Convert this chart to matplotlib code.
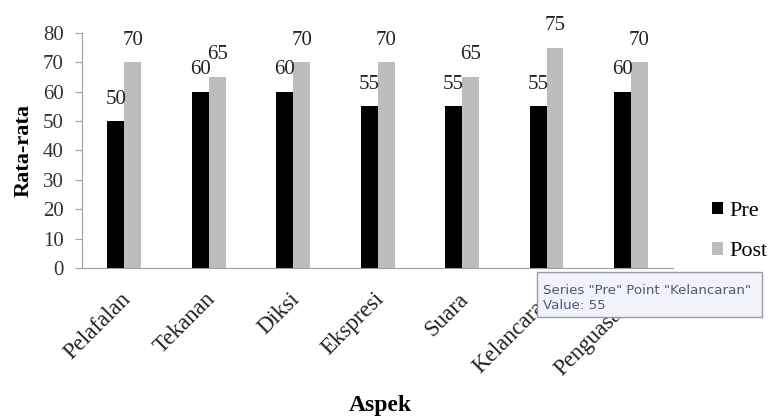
import numpy as np
import matplotlib.pyplot as plt
import matplotlib.transforms as mtransforms
from matplotlib.patches import Rectangle

aspek = ['Pelafalan', 'Tekanan', 'Diksi', 'Ekspresi', 'Suara', 'Kelancaran', 'Penguasaan']
pre = [50, 60, 60, 55, 55, 55, 60]
post = [70, 65, 70, 70, 65, 75, 70]

plt.rcParams['font.family'] = ['Liberation Serif', 'DejaVu Serif']

fig = plt.figure(figsize=(7.73, 4.16), dpi=100)
ax = fig.add_axes([0.106, 0.356, 0.765, 0.565])

x = np.arange(len(aspek))
w = 0.2
b1 = ax.bar(x - w / 2, pre, w, color='black', label='Pre')
b2 = ax.bar(x + w / 2, post, w, color='#bdbdbd', label='Post')

for bars, vals in ((b1, pre), (b2, post)):
    for r, v in zip(bars, vals):
        ax.annotate(str(v), (r.get_x() + r.get_width() / 2, v), xytext=(0, 9),
                    textcoords='offset points', ha='center', va='bottom', fontsize=15,
                    color='#222222')

ax.set_xlim(-0.5, len(aspek) - 0.5)
ax.set_ylim(0, 80)
ax.set_yticks(range(0, 81, 10))
ax.tick_params(axis='y', labelsize=15, labelcolor='#333333', color='#a0a0a0', length=5, pad=8)
ax.tick_params(axis='x', length=0, pad=15)
ax.set_xticks(x)
ax.set_xticklabels(aspek, rotation=45, ha='right', rotation_mode='anchor', fontsize=16.5,
                   color='#222222')
# przesunięcie etykiet odrobinę w lewo
shift = mtransforms.ScaledTranslation(-4 / 100, 0, fig.dpi_scale_trans)
for lab in ax.get_xticklabels():
    lab.set_transform(lab.get_transform() + shift)
for s in ['top', 'right']:
    ax.spines[s].set_visible(False)
for s in ['left', 'bottom']:
    ax.spines[s].set_color('#a0a0a0')

ax.set_ylabel('Rata-rata', fontsize=16, fontweight='bold', labelpad=7)
fig.text(0.492, 0.012, 'Aspek', fontsize=17, fontweight='bold', ha='center')

leg = ax.legend(loc='center left', bbox_to_anchor=(1.05, 0.155), frameon=False, fontsize=16,
                handlelength=0.5, handleheight=0.5, handletextpad=0.3, labelspacing=0.95,
                borderaxespad=0)

# tooltip z wykresu
fig.patches.append(Rectangle((537 / 773, 1 - 317 / 416), 225 / 773, 45 / 416,
                             transform=fig.transFigure, facecolor='#f2f2fb',
                             edgecolor='#9a9aa6', lw=1, zorder=10))
fig.text(543 / 773, 1 - 309 / 416, 'Series "Pre" Point "Kelancaran"\nValue: 55',
         family='DejaVu Sans', fontsize=9.6, color='#505a6e', zorder=11, linespacing=1.15)

plt.savefig('out.png', dpi=100)
